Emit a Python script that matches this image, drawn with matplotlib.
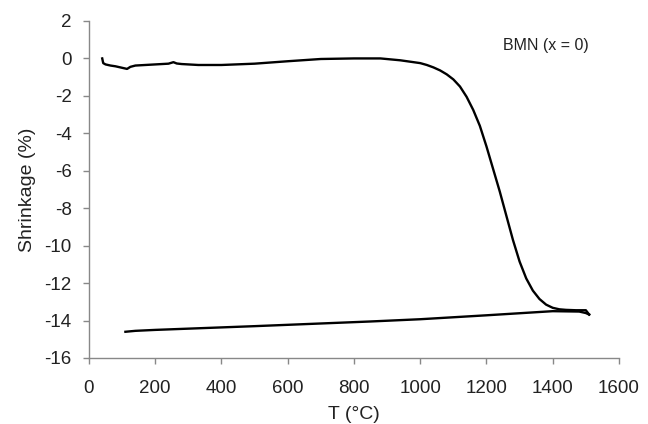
import matplotlib
matplotlib.use("Agg")
import matplotlib.pyplot as plt

plt.rcParams['font.family'] = ['Liberation Sans', 'DejaVu Sans']
plt.rcParams['axes.unicode_minus'] = False

# Heating run: temperature (°C) and linear shrinkage (%)
heat_T = [40, 43, 50, 65, 80, 100, 115, 125, 140, 170, 200, 240, 255, 265,
          280, 330, 400, 500, 600, 700, 800, 880, 940, 1000, 1020, 1040,
          1060, 1080, 1100, 1120, 1140, 1160, 1180, 1200, 1220, 1240, 1260,
          1280, 1300, 1320, 1340, 1360, 1380, 1400, 1420, 1440, 1470, 1500,
          1510]
heat_S = [0.0, -0.25, -0.32, -0.38, -0.42, -0.5, -0.56, -0.45, -0.38, -0.35,
          -0.32, -0.28, -0.2, -0.27, -0.3, -0.35, -0.35, -0.28, -0.15, -0.03,
          0.0, 0.0, -0.1, -0.25, -0.35, -0.48, -0.64, -0.85, -1.12, -1.5,
          -2.05, -2.75, -3.6, -4.7, -5.9, -7.1, -8.4, -9.7, -10.85, -11.75,
          -12.4, -12.85, -13.15, -13.32, -13.4, -13.43, -13.45, -13.45,
          -13.68]

# Cooling run
cool_T = [1510, 1500, 1480, 1400, 1200, 1000, 850, 640, 500, 350, 200, 140, 110]
cool_S = [-13.68, -13.6, -13.52, -13.5, -13.72, -13.93, -14.05, -14.2, -14.3,
          -14.4, -14.5, -14.55, -14.6]

x_ticks = [0, 200, 400, 600, 800, 1000, 1200, 1400, 1600]
y_ticks = [2, 0, -2, -4, -6, -8, -10, -12, -14, -16]

fig = plt.figure(figsize=(6.48, 4.24), dpi=100)
ax = fig.add_axes([0.1373, 0.1557, 0.8179, 0.7948])

ax.plot(heat_T, heat_S, color='black', lw=1.7, solid_joinstyle='round')
ax.plot(cool_T, cool_S, color='black', lw=1.7, solid_joinstyle='round')

ax.set_xlim(0, 1600)
ax.set_ylim(-16, 2)
ax.set_xticks(x_ticks)
ax.set_yticks(y_ticks)

for side in ('top', 'right'):
    ax.spines[side].set_visible(False)
for side in ('left', 'bottom'):
    ax.spines[side].set_color('#888888')
    ax.spines[side].set_linewidth(1.0)

ax.tick_params(axis='both', colors='#888888', labelcolor='#222222',
               labelsize=13.5, length=4.5, width=1.0, direction='out')
ax.tick_params(axis='x', pad=11)
ax.tick_params(axis='y', pad=8)

ax.set_xlabel('T (°C)', fontsize=14, color='#222222', labelpad=7)
ax.set_ylabel('Shrinkage (%)', fontsize=14, color='#222222', labelpad=6)

ax.text(1250, 0.7, 'BMN (x = 0)', fontsize=11.5, color='#222222',
        ha='left', va='center')

fig.savefig('out.png', dpi=100)
